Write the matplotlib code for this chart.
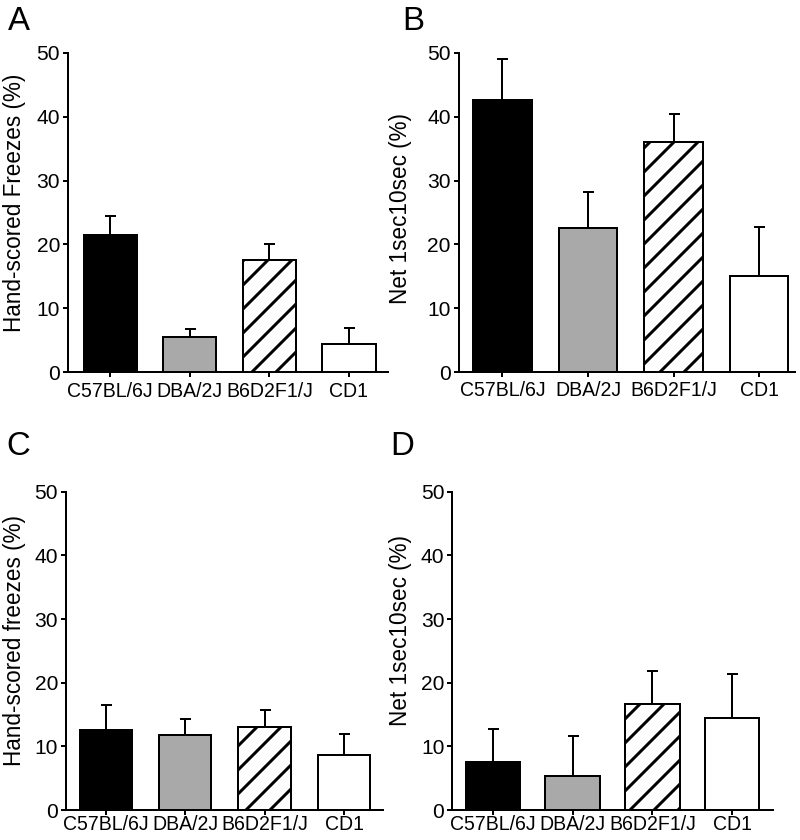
import matplotlib
matplotlib.use("Agg")
import matplotlib.pyplot as plt
import numpy as np

plt.rcParams['font.family'] = ['Liberation Sans', 'DejaVu Sans']
plt.rcParams['hatch.linewidth'] = 3.0

strains = ["C57BL/6J", "DBA/2J", "B6D2F1/J", "CD1"]

a_means = [21.4, 5.5, 17.6, 4.4]
a_err = [3.0, 1.2, 2.4, 2.5]
b_means = [42.6, 22.5, 36.1, 15.0]
b_err = [6.4, 5.7, 4.3, 7.8]
c_means = [12.6, 11.8, 13.1, 8.6]
c_err = [3.9, 2.5, 2.6, 3.4]
d_means = [7.6, 5.3, 16.7, 14.4]
d_err = [5.1, 6.4, 5.2, 7.0]

y_ticks = [0, 10, 20, 30, 40, 50]

W, H = 800, 840
DPI = 72
fig = plt.figure(figsize=(W / DPI, H / DPI), dpi=DPI)

faces = ['black', '#a9a9a9', 'white', 'white']
hatches = [None, None, '/', None]

panels = [
    # letter, means, err, ylabel, axes rect px (left, right, y of 0, y of 50), xlim, bar width,
    # letter pos (left, top), ylabel right edge px, ylabel centre y px, x tick pad
    ("A", a_means, a_err, "Hand-scored Freezes (%)", (68, 388, 372, 53), (-0.53, 3.49), 0.668, (8, 6), 26, 203, 5),
    ("B", b_means, b_err, "Net 1sec10sec (%)", (458.7, 795, 372, 53), (-0.512, 3.42), 0.684, (402, 6), 412, 209, 4),
    ("C", c_means, c_err, "Hand-scored freezes (%)", (66, 383, 810, 491.7), (-0.5, 3.49), 0.66, (6, 431), 26, 640, 0),
    ("D", d_means, d_err, "Net 1sec10sec (%)", (452.3, 772.7, 810, 491.7), (-0.51, 3.51), 0.685, (390, 431), 412, 631, 0),
]

for letter, means, err, ylabel, (l, r, yb, yt), xlim, bw, (lx, ly), labx, laby, xpad in panels:
    ax = fig.add_axes([l / W, 1 - yb / H, (r - l) / W, (yb - yt) / H])
    x = np.arange(len(strains))
    lower = np.zeros(len(strains))
    ax.errorbar(x, means, yerr=[lower, err], fmt='none', ecolor='black',
                elinewidth=2, capsize=5.5, capthick=2, zorder=2)
    bars = ax.bar(x, means, width=bw, color=faces, edgecolor='black',
                  linewidth=2, zorder=3)
    for bar, h in zip(bars, hatches):
        if h:
            bar.set_hatch(h)
    ax.set_xlim(*xlim)
    ax.set_ylim(0, 50)
    ax.set_yticks(y_ticks)
    ax.set_yticklabels([str(t) for t in y_ticks], fontsize=21)
    ax.set_xticks(x)
    ax.set_xticklabels(strains, fontsize=19.5)
    for s in ['top', 'right']:
        ax.spines[s].set_visible(False)
    for s in ['left', 'bottom']:
        ax.spines[s].set_linewidth(2)
    ax.tick_params(axis='both', direction='out', length=5, width=2, colors='black')
    ax.tick_params(axis='y', pad=3)
    ax.tick_params(axis='x', pad=xpad)
    ax.set_ylabel(ylabel, fontsize=22.5)
    ax.yaxis.set_label_coords((labx - l) / (r - l), (yb - laby) / (yb - yt))
    fig.text(lx / W, 1 - ly / H, letter, fontsize=33, ha='left', va='top')

fig.savefig("out.png", dpi=DPI, facecolor='white')
